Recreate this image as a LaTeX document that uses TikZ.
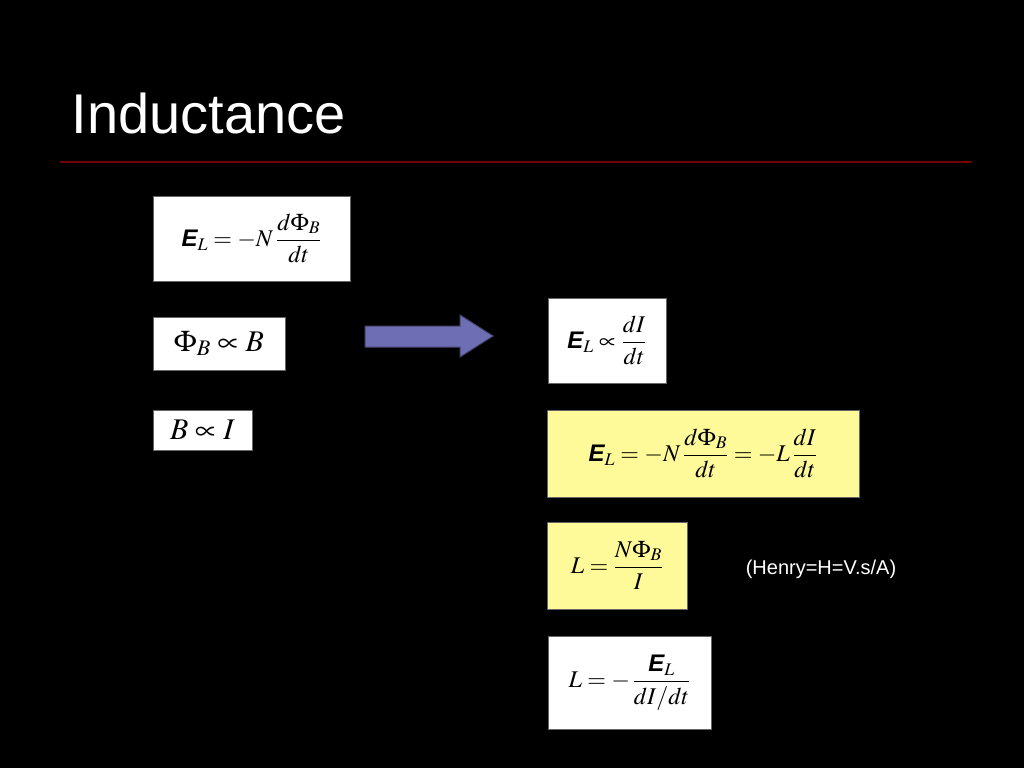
\documentclass[tikz,border=0pt]{standalone}
\usepackage{amsmath}
\usepackage{mathptmx}
\usepackage{fontspec}
\setmainfont{Liberation Sans}
\newfontfamily\arial{Liberation Sans}
\newcommand{\EE}{\mbox{\arial\bfseries\itshape E}}
\begin{document}
\begin{tikzpicture}[x=1pt,y=-1pt,
  eq/.style={fill=#1,draw=black!60,line width=0.5pt,inner sep=0pt,font=\fontsize{24}{28}\selectfont},
  eq/.default=white]
\fill[black] (0,0) rectangle (1024,768);
\useasboundingbox (0,0) rectangle (1024,768);
\node[anchor=west,text=white,font=\fontsize{56}{60}\selectfont] (title) at (68,113) {Inductance};
\draw[color=red!45!black,line width=1.5pt] (60,162) coordinate (l1) -- (972,162) coordinate (l2);
\node[eq,minimum width=197,minimum height=85] (b1) at (251.5,238.5) {$\EE_L=-N\,\dfrac{d\Phi_B}{dt}$};
\node[eq,minimum width=132,minimum height=53] (b2) at (219,343.5) {\fontsize{30}{34}\selectfont$\Phi_B\propto B$};
\node[eq,minimum width=99,minimum height=40] (b3) at (202.5,430) {\fontsize{30}{34}\selectfont$B\propto I$};
\node[eq,minimum width=118,minimum height=85] (b4) at (607,340.5) {$\EE_L\propto\dfrac{dI}{dt}$};
\node[eq=yellow!40,minimum width=312,minimum height=87] (b5) at (703,453.5) {$\EE_L=-N\,\dfrac{d\Phi_B}{dt}=-L\,\dfrac{dI}{dt}$};
\node[eq=yellow!40,minimum width=140,minimum height=87] (b6) at (617,565.5) {$L=\dfrac{N\Phi_B}{I}$};
\node[eq,minimum width=163,minimum height=93] (b7) at (629.5,682.5) {$L=-\,\dfrac{\EE_L}{dI/dt}$};
\node[text=white,font=\fontsize{20}{24}\selectfont] (henry) at (821,569) {(Henry=H=V.s/A)};
\draw[fill={rgb,255:red,110;green,110;blue,180},draw={rgb,255:red,70;green,70;blue,110},line width=1pt]
  (365,326) -- (460,326) -- (460,315) -- (493,336) -- (460,357) -- (460,347) -- (365,347) -- cycle;
\end{tikzpicture}
\end{document}
